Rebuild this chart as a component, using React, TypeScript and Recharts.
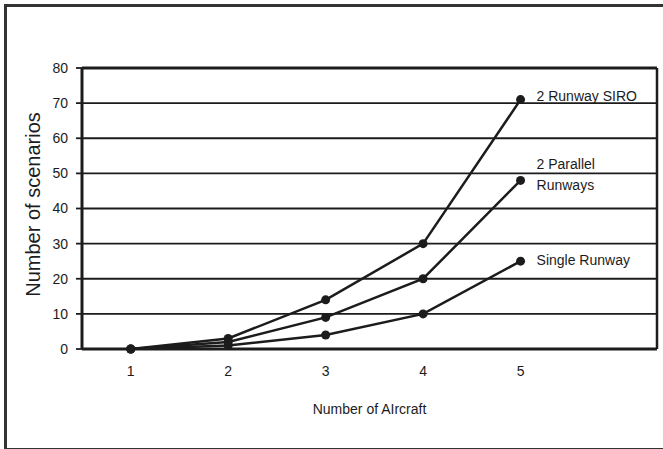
import { LineChart, Line, XAxis, YAxis, CartesianGrid, ReferenceLine, LabelList } from "recharts";

// Values
const aircraft = [1, 2, 3, 4, 5];
const siro = [0, 3, 14, 30, 71];
const parallel = [0, 2, 9, 20, 48];
const single = [0, 1, 4, 10, 25];
const yTicks = [0, 10, 20, 30, 40, 50, 60, 70, 80];
const xTicks = [1, 2, 3, 4, 5];
const xDomain: [number, number] = [0.5, 6.4];

const data = aircraft.map((a, i) => ({
  aircraft: a,
  siro: siro[i],
  parallel: parallel[i],
  single: single[i],
}));

const INK = "#1c1c1c";
const FONT = "'Liberation Sans', Arial, Helvetica, sans-serif";

// Put the series name beside the last point only
function endLabel(lines: string[], shift: number) {
  return (props: any) => {
    const { x, y, index } = props;
    if (index !== aircraft.length - 1) return null;
    return (
      <g>
        {lines.map((t, k) => (
          <text
            key={k}
            x={x + 16}
            y={y + shift + k * 21}
            dy="0.35em"
            fontSize={14}
            fill={INK}
            fontFamily={FONT}
          >
            {t}
          </text>
        ))}
      </g>
    );
  };
}

function yLabel(props: any) {
  const vb = props.viewBox || { x: 0, y: 68, width: 82, height: 281 };
  const cx = 33;
  const cy = vb.y + vb.height / 2 - 4;
  return (
    <text
      x={cx}
      y={cy}
      transform={`rotate(-90 ${cx} ${cy})`}
      textAnchor="middle"
      dominantBaseline="central"
      fontSize={20}
      fill={INK}
      fontFamily={FONT}
    >
      Number of scenarios
    </text>
  );
}

export default function App() {
  const dot = { r: 4.5, fill: INK, stroke: INK, strokeWidth: 0 };
  return (
    <div style={{ position: "absolute", left: 0, top: 0, width: 663, height: 449, background: "#fff" }}>
      <div
        style={{
          position: "absolute",
          left: 4,
          top: 4,
          width: 680,
          height: 441,
          borderLeft: "3px solid #333",
          borderTop: "3px solid #333",
          borderBottom: "3px solid #333",
        }}
      />
      <LineChart
        width={663}
        height={449}
        data={data}
        margin={{ top: 68, right: 6, left: 0, bottom: 0 }}
        style={{ position: "absolute", left: 0, top: 0, fontFamily: FONT }}
      >
        <CartesianGrid vertical={false} stroke={INK} strokeWidth={1.8} />
        <XAxis
          type="number"
          dataKey="aircraft"
          domain={xDomain}
          ticks={xTicks}
          height={100}
          tickLine={false}
          tickMargin={11}
          axisLine={{ stroke: INK, strokeWidth: 3 }}
          tick={{ fill: INK, fontSize: 14, fontFamily: FONT }}
          label={{
            value: "Number of AIrcraft",
            position: "insideBottom",
            offset: 35,
            fill: INK,
            fontSize: 14,
            fontFamily: FONT,
          }}
        />
        <YAxis
          type="number"
          domain={[0, 80]}
          ticks={yTicks}
          width={82}
          tickSize={6}
          tickMargin={8}
          tickLine={{ stroke: INK, strokeWidth: 1.8 }}
          axisLine={{ stroke: INK, strokeWidth: 3 }}
          tick={{ fill: INK, fontSize: 14, fontFamily: FONT }}
          label={{ content: yLabel }}
        />
        <ReferenceLine y={80} stroke={INK} strokeWidth={3} />
        <ReferenceLine x={xDomain[1]} stroke={INK} strokeWidth={2.5} />
        <Line dataKey="single" stroke={INK} strokeWidth={2.5} dot={dot} isAnimationActive={false}>
          <LabelList content={endLabel(["Single Runway"], -1)} />
        </Line>
        <Line dataKey="parallel" stroke={INK} strokeWidth={2.5} dot={dot} isAnimationActive={false}>
          <LabelList content={endLabel(["2 Parallel", "Runways"], -16)} />
        </Line>
        <Line dataKey="siro" stroke={INK} strokeWidth={2.5} dot={dot} isAnimationActive={false}>
          <LabelList content={endLabel(["2 Runway SIRO"], -4)} />
        </Line>
      </LineChart>
    </div>
  );
}
